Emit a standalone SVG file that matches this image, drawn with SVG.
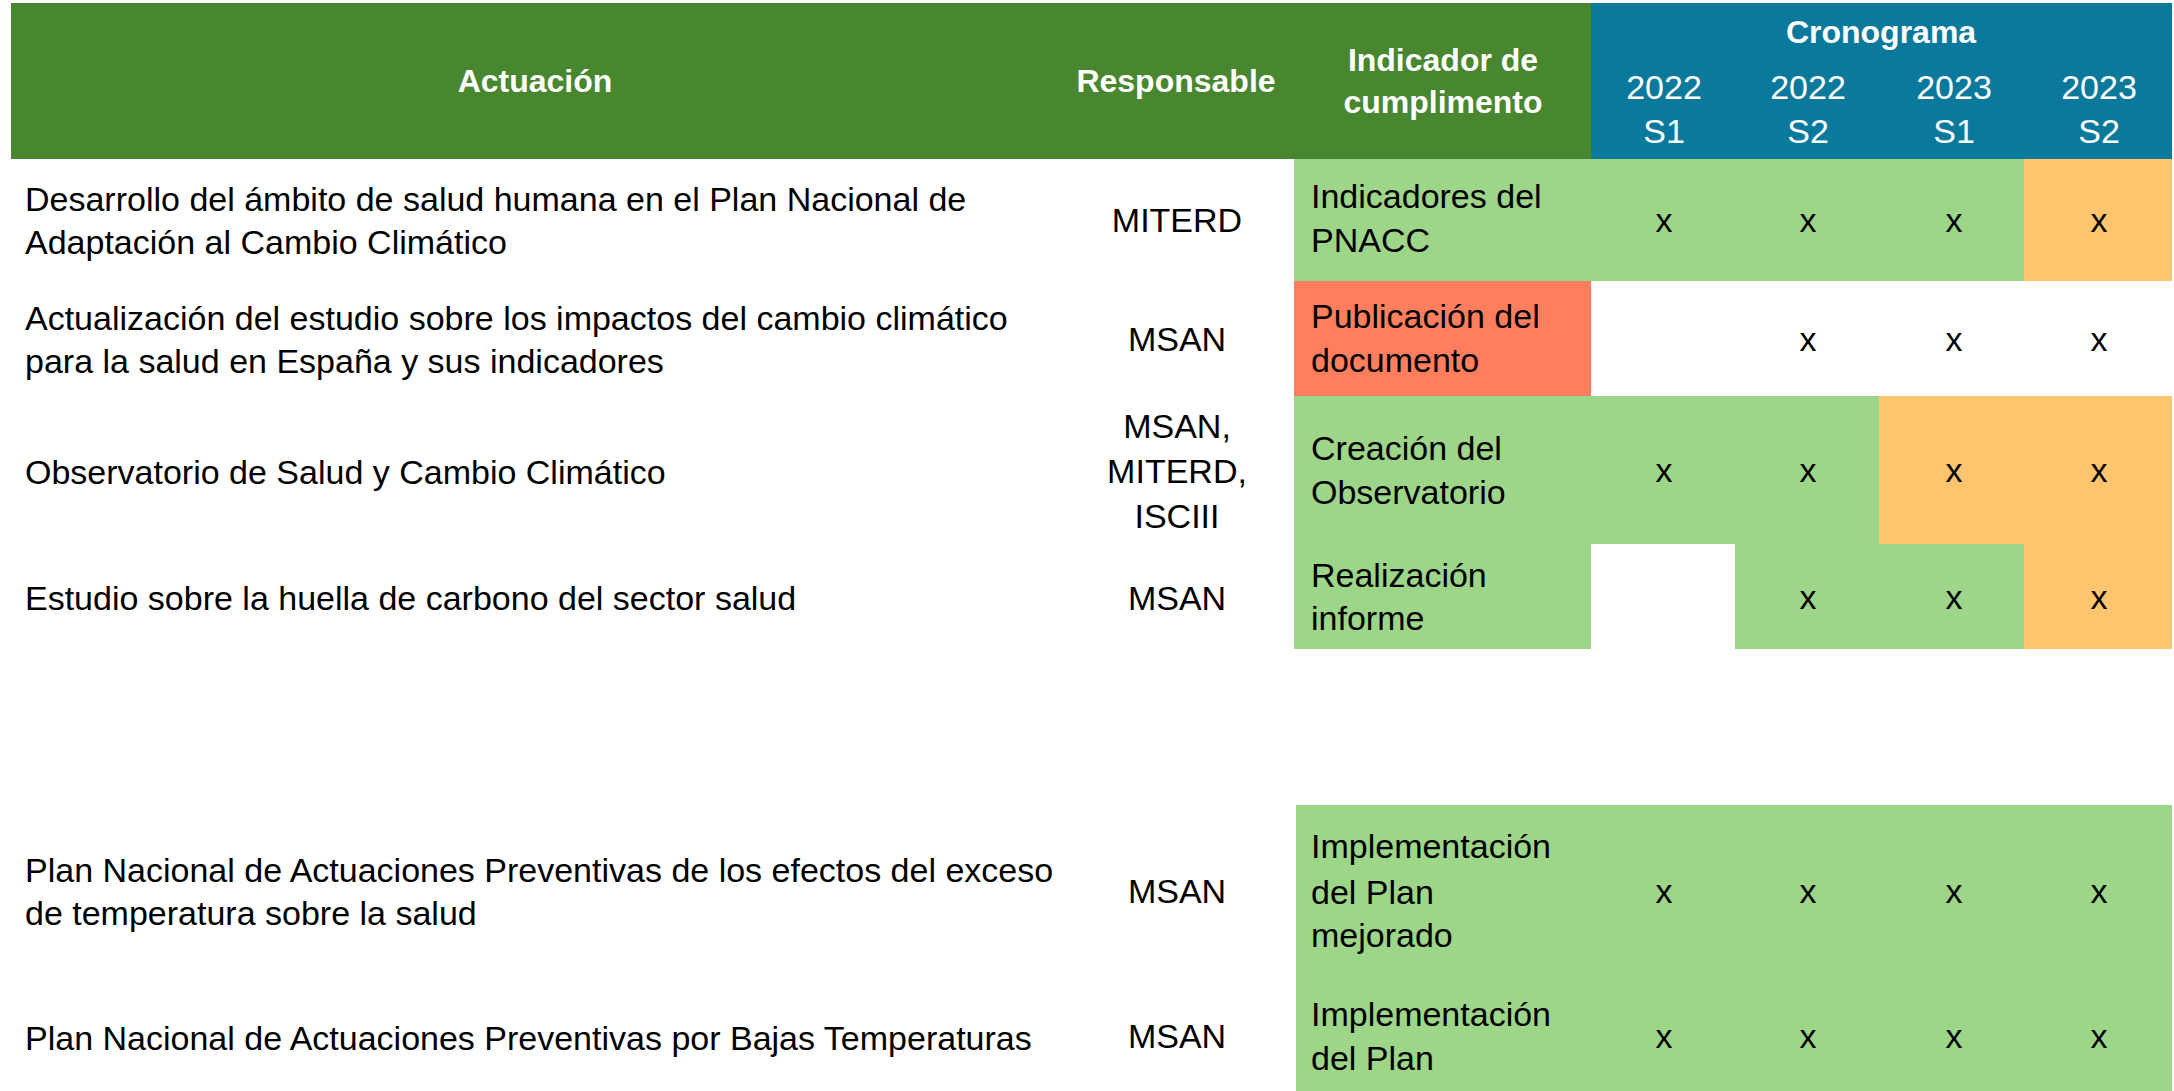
<svg xmlns="http://www.w3.org/2000/svg" width="2174" height="1091" viewBox="0 0 2174 1091">
<style>
text{font-family:"Liberation Sans",Arial,sans-serif;font-size:34px;fill:#000}
.h{font-weight:bold;font-size:32px;fill:#fff}
.hy{fill:#fff;font-size:34px}
.c{text-anchor:middle}
.hg{fill:#48862F}
.hb{fill:#0A799C}
.g{fill:#9DD589}
.o{fill:#FFC46E}
.r{fill:#FF7E5E}
</style>
<rect x="0" y="0" width="2174" height="1091" fill="#fff"/>
<g id="header">
<rect class="hg" x="11" y="3" width="1580" height="156"/>
<rect class="hb" x="1591" y="3" width="581" height="156"/>
<text class="h c" x="535" y="92">Actuación</text>
<text class="h c" x="1176" y="92">Responsable</text>
<text class="h c" x="1443" y="71">Indicador de</text>
<text class="h c" x="1443" y="113">cumplimento</text>
<text class="h c" x="1881" y="43">Cronograma</text>
<text class="hy c" x="1664" y="99">2022</text>
<text class="hy c" x="1664" y="143">S1</text>
<text class="hy c" x="1808" y="99">2022</text>
<text class="hy c" x="1808" y="143">S2</text>
<text class="hy c" x="1954" y="99">2023</text>
<text class="hy c" x="1954" y="143">S1</text>
<text class="hy c" x="2099" y="99">2023</text>
<text class="hy c" x="2099" y="143">S2</text>
</g>
<g id="row1">
<rect class="g" x="1294" y="159" width="730" height="122"/>
<rect class="o" x="2024" y="159" width="148" height="122"/>
<text x="25" y="211">Desarrollo del ámbito de salud humana en el Plan Nacional de</text>
<text x="25" y="254">Adaptación al Cambio Climático</text>
<text class="c" x="1177" y="232">MITERD</text>
<text x="1311" y="208">Indicadores del</text>
<text x="1311" y="252">PNACC</text>
<text class="c" x="1664" y="232">x</text>
<text class="c" x="1808" y="232">x</text>
<text class="c" x="1954" y="232">x</text>
<text class="c" x="2099" y="232">x</text>
</g>
<g id="row2">
<rect class="r" x="1294" y="281" width="297" height="115"/>
<text x="25" y="330">Actualización del estudio sobre los impactos del cambio climático</text>
<text x="25" y="373">para la salud en España y sus indicadores</text>
<text class="c" x="1177" y="351">MSAN</text>
<text x="1311" y="328">Publicación del</text>
<text x="1311" y="372">documento</text>
<text class="c" x="1808" y="351">x</text>
<text class="c" x="1954" y="351">x</text>
<text class="c" x="2099" y="351">x</text>
</g>
<g id="row3">
<rect class="g" x="1294" y="396" width="585" height="148"/>
<rect class="o" x="1879" y="396" width="293" height="148"/>
<text x="25" y="484">Observatorio de Salud y Cambio Climático</text>
<text class="c" x="1177" y="438">MSAN,</text>
<text class="c" x="1177" y="483">MITERD,</text>
<text class="c" x="1177" y="528">ISCIII</text>
<text x="1311" y="460">Creación del</text>
<text x="1311" y="504">Observatorio</text>
<text class="c" x="1664" y="482">x</text>
<text class="c" x="1808" y="482">x</text>
<text class="c" x="1954" y="482">x</text>
<text class="c" x="2099" y="482">x</text>
</g>
<g id="row4">
<rect class="g" x="1294" y="544" width="297" height="105"/>
<rect class="g" x="1735" y="544" width="289" height="105"/>
<rect class="o" x="2024" y="544" width="148" height="105"/>
<text x="25" y="610">Estudio sobre la huella de carbono del sector salud</text>
<text class="c" x="1177" y="610">MSAN</text>
<text x="1311" y="587">Realización</text>
<text x="1311" y="630">informe</text>
<text class="c" x="1808" y="609">x</text>
<text class="c" x="1954" y="609">x</text>
<text class="c" x="2099" y="609">x</text>
</g>
<g id="row5">
<rect class="g" x="1296" y="805" width="876" height="155"/>
<text x="25" y="882">Plan Nacional de Actuaciones Preventivas de los efectos del exceso</text>
<text x="25" y="925">de temperatura sobre la salud</text>
<text class="c" x="1177" y="903">MSAN</text>
<text x="1311" y="858">Implementación</text>
<text x="1311" y="904">del Plan</text>
<text x="1311" y="947">mejorado</text>
<text class="c" x="1664" y="903">x</text>
<text class="c" x="1808" y="903">x</text>
<text class="c" x="1954" y="903">x</text>
<text class="c" x="2099" y="903">x</text>
</g>
<g id="row6">
<rect class="g" x="1296" y="959" width="876" height="132"/>
<text x="25" y="1050">Plan Nacional de Actuaciones Preventivas por Bajas Temperaturas</text>
<text class="c" x="1177" y="1048">MSAN</text>
<text x="1311" y="1026">Implementación</text>
<text x="1311" y="1070">del Plan</text>
<text class="c" x="1664" y="1048">x</text>
<text class="c" x="1808" y="1048">x</text>
<text class="c" x="1954" y="1048">x</text>
<text class="c" x="2099" y="1048">x</text>
</g>
<g id="connectors"/>
</svg>
